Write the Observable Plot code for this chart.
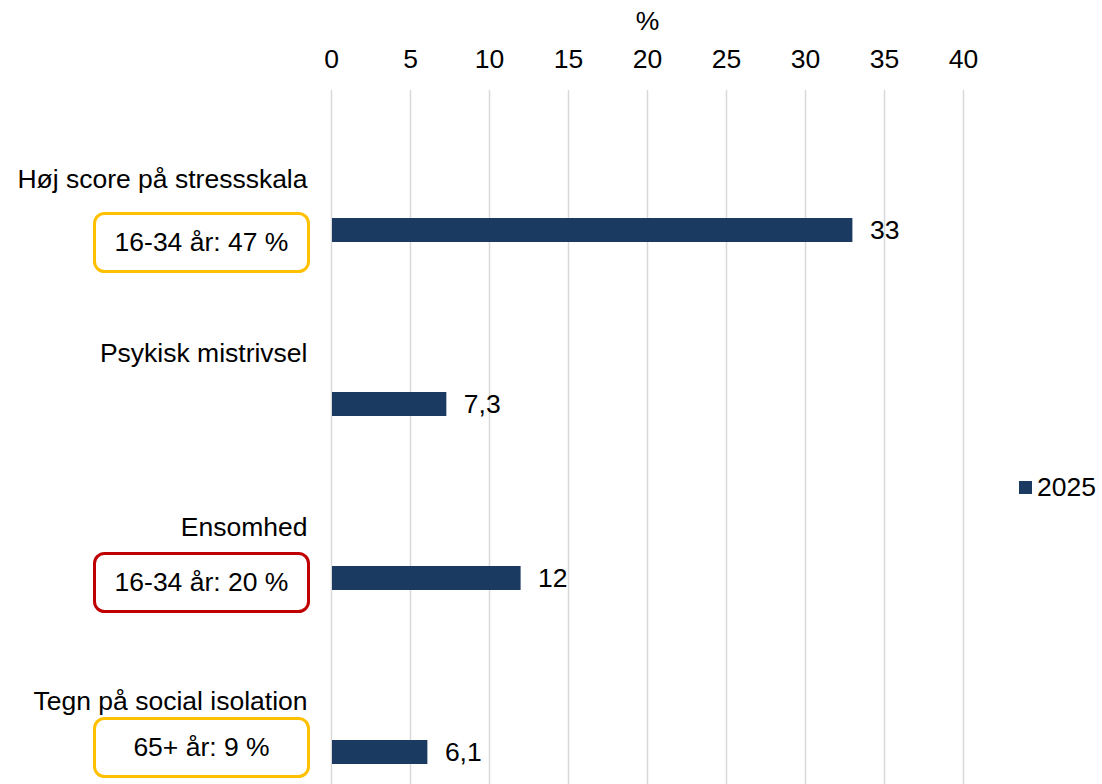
<!DOCTYPE html>
<html>
<head>
<meta charset="utf-8">
<script src="https://cdn.jsdelivr.net/npm/d3@7"></script>
<script src="https://cdn.jsdelivr.net/npm/@observablehq/plot@0.6"></script>
<style>
  html, body { margin: 0; padding: 0; background: #fff; }
  #wrap { position: relative; width: 1102px; height: 784px; overflow: hidden; }
  #legend { position: absolute; left: 1019px; top: 472px; font-family: "Liberation Sans", Arial, sans-serif; font-size: 26.5px; color: #000; display: flex; align-items: center; }
  #legend .sw { width: 13px; height: 13px; background: #1B3A61; margin-right: 5px; }
</style>
</head>
<body>
<div id="wrap"><div id="legend"><div class="sw"></div><span id="legtext"></span></div></div>
<script>
const categories = ["Høj score på stressskala", "Psykisk mistrivsel", "Ensomhed", "Tegn på social isolation"];
const values2025 = [33, 7.3, 12, 6.1];
const seriesName = "2025";
const xTicks = [0, 5, 10, 15, 20, 25, 30, 35, 40];
const axisTitle = "%";
const boxCategories = ["Høj score på stressskala", "Ensomhed", "Tegn på social isolation"];
const boxTexts = ["16-34 år: 47 %", "16-34 år: 20 %", "65+ år: 9 %"];
const boxKinds = ["yellow", "red", "yellow"];

const barColor = "#1B3A61";
const kindColor = {yellow: "#FFC000", red: "#C00000"};
const boxDy = [12, 4, -5];
const font = "Liberation Sans, Arial, sans-serif";
const fs = 26.5;

const data = categories.map((c, i) => ({cat: c, value: values2025[i]}));
const boxes = boxCategories.map((c, i) => ({cat: c, text: boxTexts[i], kind: boxKinds[i]}));
const fmt = v => String(v).replace(".", ",");

function boxMark(b, i) {
  return Plot.text([b], {
    x: () => 0, y: "cat", text: "text",
    dx: -130, dy: boxDy[i],
    fontSize: fs, fill: "#000",
    render(index, scales, values, dims, ctx, next) {
      const g = next(index, scales, values, dims, ctx);
      for (const j of index) {
        const cx = values.x[j], cy = values.y[j];
        const r = document.createElementNS("http://www.w3.org/2000/svg", "rect");
        r.setAttribute("x", cx - 107);
        r.setAttribute("y", cy - 29);
        r.setAttribute("width", 214);
        r.setAttribute("height", 58);
        r.setAttribute("rx", 10);
        r.setAttribute("fill", "#fff");
        r.setAttribute("stroke", kindColor[b.kind]);
        r.setAttribute("stroke-width", 3);
        g.insertBefore(r, g.firstChild);
      }
      return g;
    }
  });
}

const chart = Plot.plot({
  width: 1102,
  height: 784,
  marginLeft: 331,
  marginRight: 139,
  marginTop: 90,
  marginBottom: 0,
  style: {fontFamily: font, fontSize: fs + "px", color: "#000", background: "#fff", overflow: "visible"},
  x: {domain: [0, 40], ticks: xTicks},
  y: {domain: categories, range: [143, 840], paddingInner: 0.862, paddingOuter: 0.431, axis: null},
  marks: [
    Plot.gridX(xTicks, {stroke: "#D9D9D9", strokeOpacity: 1, strokeWidth: 1.5}),
    Plot.axisX(xTicks, {anchor: "top", tickSize: 0, tickPadding: 23, fontSize: fs, label: axisTitle, labelAnchor: "center", labelArrow: "none", labelOffset: 79}),
    Plot.barX(data, {x: "value", y: "cat", fill: barColor, insetLeft: 1}),
    Plot.text(data, {x: "value", y: "cat", text: d => fmt(d.value), textAnchor: "start", dx: 17, fontSize: fs, fill: "#000"}),
    Plot.text(categories, {x: () => 0, y: d => d, text: d => d, textAnchor: "end", dx: -24, dy: -51, fontSize: fs, fill: "#000"}),
    ...boxes.map(boxMark)
  ]
});
document.getElementById("wrap").prepend(chart);
document.getElementById("legtext").textContent = seriesName;
</script>
</body>
</html>
